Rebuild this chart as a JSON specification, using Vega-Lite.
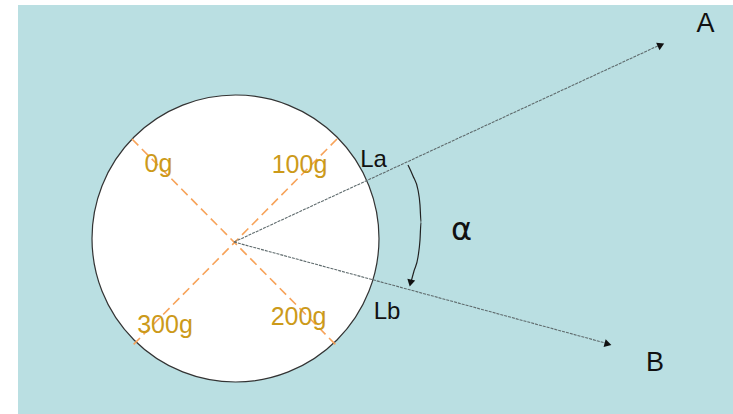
{
  "$schema": "https://vega.github.io/schema/vega-lite/v6.json",
  "width": 733,
  "height": 414,
  "autosize": {"type": "fit", "contains": "padding"},
  "padding": 0,
  "background": "white",
  "config": {"view": {"stroke": null}, "axis": {"disable": true}},
  "datasets": {
    "panel": [{"x": 18, "x2": 733, "y": 5, "y2": 414}],
    "disc": [{"x": 235.5, "y": 238.5}],
    "diagonals": [
      {"x": 132, "y": 139, "x2": 337, "y2": 346},
      {"x": 337, "y": 139, "x2": 133, "y2": 345}
    ],
    "rays": [
      {"ray": "A", "x": 234, "y": 242, "x2": 662, "y2": 44},
      {"ray": "B", "x": 234, "y": 242, "x2": 609, "y2": 344}
    ],
    "arc": [
      {"i": 0, "x": 408, "y": 165},
      {"i": 1, "x": 413, "y": 176},
      {"i": 2, "x": 418, "y": 190},
      {"i": 3, "x": 420, "y": 205},
      {"i": 4, "x": 421, "y": 222},
      {"i": 5, "x": 420, "y": 240},
      {"i": 6, "x": 418, "y": 257},
      {"i": 7, "x": 414, "y": 271},
      {"i": 8, "x": 411, "y": 282}
    ],
    "heads": [
      {"head": "A", "x": 661, "y": 45},
      {"head": "B", "x": 608, "y": 344},
      {"head": "alpha", "x": 410.5, "y": 283}
    ],
    "weights": [
      {"label": "0g", "x": 158.5, "y": 172},
      {"label": "100g", "x": 299.5, "y": 173},
      {"label": "300g", "x": 165, "y": 333},
      {"label": "200g", "x": 298.5, "y": 325}
    ],
    "names": [
      {"label": "La", "x": 373.5, "y": 167, "kind": "small"},
      {"label": "Lb", "x": 387, "y": 319, "kind": "small"},
      {"label": "A", "x": 705.5, "y": 32, "kind": "big"},
      {"label": "B", "x": 655, "y": 371, "kind": "big"}
    ],
    "greek": [{"label": "α", "x": 461.5, "y": 240}]
  },
  "encoding": {
    "x": {"field": "x", "type": "quantitative", "scale": {"domain": [0, 733], "nice": false, "zero": false}, "axis": null},
    "y": {"field": "y", "type": "quantitative", "scale": {"domain": [0, 414], "nice": false, "zero": false, "reverse": true}, "axis": null}
  },
  "layer": [
    {
      "data": {"name": "panel"},
      "mark": {"type": "rect", "color": "#badfe2"},
      "encoding": {"x2": {"field": "x2"}, "y2": {"field": "y2"}}
    },
    {
      "data": {"name": "disc"},
      "mark": {"type": "point", "shape": "circle", "size": 82369, "filled": true, "fill": "white", "stroke": "#333333", "strokeWidth": 1.2, "opacity": 1}
    },
    {
      "data": {"name": "diagonals"},
      "mark": {"type": "rule", "color": "#f7a35a", "strokeWidth": 1.6, "strokeDash": [9, 5]},
      "encoding": {"x2": {"field": "x2"}, "y2": {"field": "y2"}}
    },
    {
      "data": {"name": "rays"},
      "mark": {"type": "rule", "color": "#5f6b6d", "strokeWidth": 1.1, "strokeDash": [3, 1]},
      "encoding": {"x2": {"field": "x2"}, "y2": {"field": "y2"}}
    },
    {
      "data": {"name": "arc"},
      "mark": {"type": "line", "color": "#222222", "strokeWidth": 1.2, "interpolate": "monotone"},
      "encoding": {"order": {"field": "i", "type": "quantitative"}}
    },
    {
      "data": {"name": "heads"},
      "transform": [{"filter": "datum.head === 'A'"}],
      "mark": {"type": "point", "shape": "triangle-up", "size": 65, "filled": true, "color": "#111111", "opacity": 1, "angle": 65}
    },
    {
      "data": {"name": "heads"},
      "transform": [{"filter": "datum.head === 'B'"}],
      "mark": {"type": "point", "shape": "triangle-up", "size": 65, "filled": true, "color": "#111111", "opacity": 1, "angle": 105}
    },
    {
      "data": {"name": "heads"},
      "transform": [{"filter": "datum.head === 'alpha'"}],
      "mark": {"type": "point", "shape": "triangle-up", "size": 65, "filled": true, "color": "#111111", "opacity": 1, "angle": 193}
    },
    {
      "data": {"name": "weights"},
      "mark": {"type": "text", "font": "Liberation Sans", "fontSize": 25, "color": "#cc9a1a", "align": "center", "baseline": "alphabetic"},
      "encoding": {"text": {"field": "label"}}
    },
    {
      "data": {"name": "names"},
      "transform": [{"filter": "datum.kind === 'small'"}],
      "mark": {"type": "text", "font": "Liberation Sans", "fontSize": 24, "color": "#111111", "align": "center", "baseline": "alphabetic"},
      "encoding": {"text": {"field": "label"}}
    },
    {
      "data": {"name": "names"},
      "transform": [{"filter": "datum.kind === 'big'"}],
      "mark": {"type": "text", "font": "Liberation Sans", "fontSize": 27, "color": "#111111", "align": "center", "baseline": "alphabetic"},
      "encoding": {"text": {"field": "label"}}
    },
    {
      "data": {"name": "greek"},
      "mark": {"type": "text", "font": "DejaVu Sans", "fontSize": 32, "color": "#111111", "align": "center", "baseline": "alphabetic"},
      "encoding": {"text": {"field": "label"}}
    }
  ]
}
